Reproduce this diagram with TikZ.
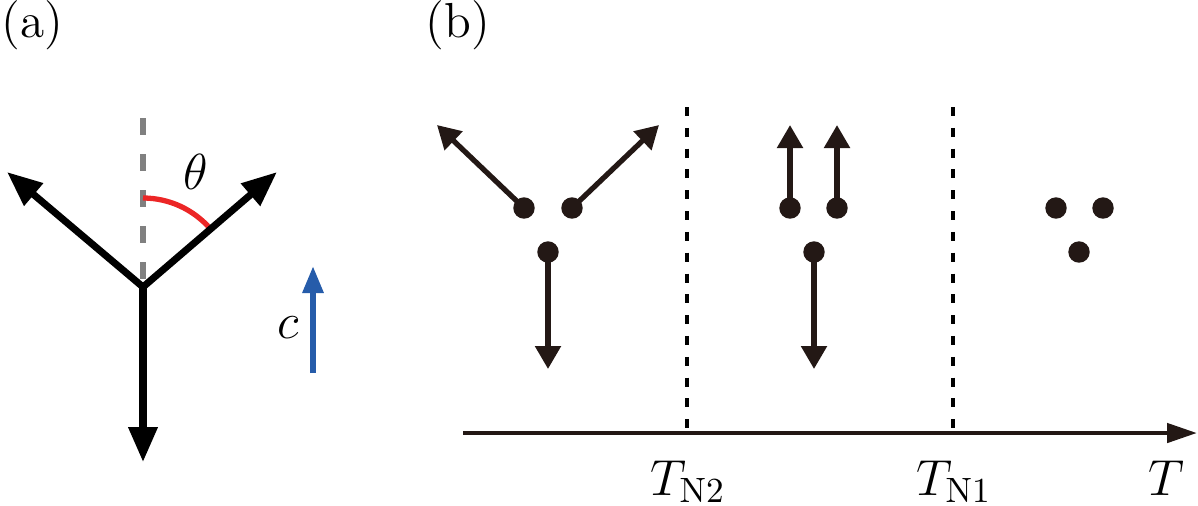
\documentclass[tikz,border=0pt]{standalone}
\usetikzlibrary{arrows.meta}
\definecolor{ink}{RGB}{35,24,21}
\definecolor{angred}{RGB}{236,38,38}
\definecolor{cblue}{RGB}{38,92,170}
\definecolor{axgray}{RGB}{128,128,128}
\tikzset{
  bigarrow/.style={line width=2pt,-{Triangle[length=0.35cm,width=0.28cm]}},
  spinarrow/.style={draw=ink,line width=1.5pt,-{Triangle[length=0.23cm,width=0.25cm]}},
  spin/.style={circle,fill=ink,draw=ink,inner sep=0pt,minimum size=0.2cm},
  phaseline/.style={draw=black,line width=1.2pt,dash pattern=on 0.09cm off 0.118cm},
  lab/.style={inner sep=0pt,font=\fontsize{14}{16}\selectfont},
}
\begin{document}
\begin{tikzpicture}[x=0.01cm,y=-0.01cm]
\useasboundingbox (0,0) rectangle (1198,505);
% panel labels
\node[lab,anchor=base west] (la) at (1,37) {(a)};
\node[lab,anchor=base west] (lb) at (425,37) {(b)};
% ---------- panel (a)
\coordinate (o) at (143,287);
\coordinate (top) at (143,118);
\coordinate (tl) at (7,172);
\coordinate (tr) at (277,172);
\coordinate (bt) at (143,462);
\draw[axgray,line width=1.5pt,dash pattern=on 0.17cm off 0.19cm] (top) -- (o);
\draw[angred,line width=1.5pt] (143,198) arc[start angle=-90,end angle=-40.6,radius=89];
\draw[bigarrow] (o) -- (tl);
\draw[bigarrow] (o) -- (tr);
\draw[bigarrow] ([yshift=0.03cm]o) -- (bt);
\node[lab] (theta) at (196,172) {$\theta$};
\coordinate (cb) at (313,373);
\coordinate (ct) at (313,266);
\draw[cblue,line width=1.7pt,-{Triangle[length=0.27cm,width=0.2cm]}] (cb) -- (ct);
\node[lab,anchor=base] (clab) at (288,338) {$c$};
% ---------- panel (b)
\coordinate (ax0) at (463,433);
\coordinate (ax1) at (1197,433);
\coordinate (v2t) at (687,107);
\coordinate (v2b) at (687,433);
\coordinate (v1t) at (953,107);
\coordinate (v1b) at (953,433);
\draw[phaseline] (v2t) -- (v2b);
\draw[phaseline] (v1t) -- (v1b);
\draw[draw=ink,line width=1.3pt,-{Triangle[length=0.30cm,width=0.19cm]}] (ax0) -- (ax1);
% low-T phase
\node[spin] (d1) at (524,208) {};
\node[spin] (d2) at (572,208) {};
\node[spin] (d3) at (548,252) {};
\coordinate (e1) at (437,125);
\coordinate (e2) at (659,125);
\coordinate (e3) at (548,369);
\draw[spinarrow] (d1.center) -- (e1);
\draw[spinarrow] (d2.center) -- (e2);
\draw[spinarrow] (d3.center) -- (e3);
% middle phase
\node[spin] (d4) at (790,208) {};
\node[spin] (d5) at (837,208) {};
\node[spin] (d6) at (814,252) {};
\coordinate (e4) at (790,125);
\coordinate (e5) at (837,125);
\coordinate (e6) at (814,369);
\draw[spinarrow] (d4.center) -- (e4);
\draw[spinarrow] (d5.center) -- (e5);
\draw[spinarrow] (d6.center) -- (e6);
% redraw dots on top
\foreach \n in {d1,d2,d3,d4,d5,d6}{\fill[ink] (\n) circle[radius=0.1cm];}
% paramagnetic phase
\node[spin] (d7) at (1056,208) {};
\node[spin] (d8) at (1103,208) {};
\node[spin] (d9) at (1079,252) {};
% axis labels
\node[lab,anchor=base] (tn2) at (688,495) {$T_{\mathrm{N2}}$};
\node[lab,anchor=base] (tn1) at (954,495) {$T_{\mathrm{N1}}$};
\node[lab,anchor=base] (tt) at (1166,495) {$T$};
\end{tikzpicture}
\end{document}
